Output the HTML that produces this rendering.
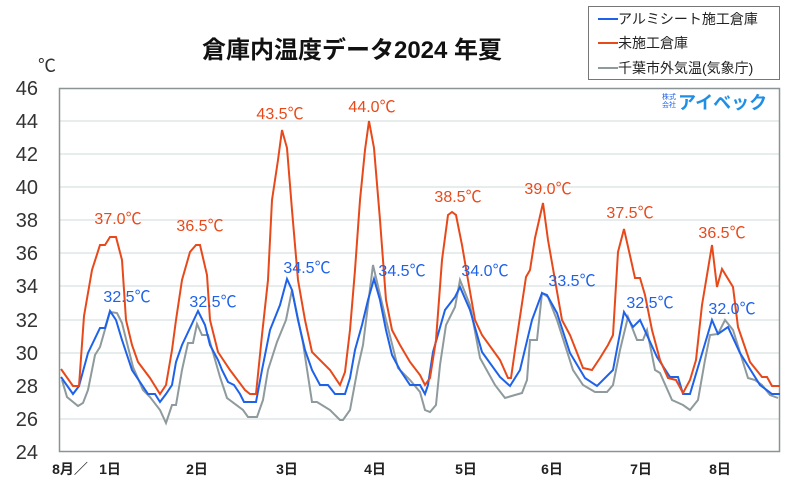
<!DOCTYPE html>
<html><head><meta charset="utf-8"><style>
body{margin:0;background:#fff;}
svg{display:block;font-family:"Liberation Sans","Noto Sans CJK JP",sans-serif;}
</style></head><body>
<svg width="787" height="490" viewBox="0 0 787 490" xmlns="http://www.w3.org/2000/svg">
<rect width="787" height="490" fill="#fff"/>
<text x="352" y="58" font-size="24" font-weight="bold" text-anchor="middle" fill="#111">倉庫内温度データ2024 年夏</text>
<text x="38" y="72" font-size="18" fill="#333">℃</text>
<g stroke="#dfe6e6" stroke-width="1.5">
<line x1="60" x2="779" y1="121" y2="121"/><line x1="60" x2="779" y1="154" y2="154"/>
<line x1="60" x2="779" y1="187" y2="187"/><line x1="60" x2="779" y1="220" y2="220"/>
<line x1="60" x2="779" y1="253" y2="253"/><line x1="60" x2="779" y1="286" y2="286"/>
<line x1="60" x2="779" y1="320" y2="320"/><line x1="60" x2="779" y1="353" y2="353"/>
<line x1="60" x2="779" y1="386" y2="386"/><line x1="60" x2="779" y1="419" y2="419"/>
</g>
<rect x="59.5" y="88.5" width="720" height="363" fill="none" stroke="#8a9496" stroke-width="1.5"/>
<g font-size="20" fill="#333" text-anchor="end">
<text x="38" y="95">46</text><text x="38" y="128">44</text><text x="38" y="161">42</text>
<text x="38" y="194">40</text><text x="38" y="227">38</text><text x="38" y="260">36</text>
<text x="38" y="293">34</text><text x="38" y="327">32</text><text x="38" y="360">30</text>
<text x="38" y="393">28</text><text x="38" y="426">26</text><text x="38" y="459">24</text>
</g>
<g font-size="14" font-weight="bold" fill="#222" text-anchor="middle">
<text x="70" y="474">8月／</text><text x="110" y="474">1日</text><text x="197" y="474">2日</text>
<text x="287" y="474">3日</text><text x="375" y="474">4日</text><text x="466" y="474">5日</text>
<text x="552" y="474">6日</text><text x="641" y="474">7日</text><text x="720" y="474">8日</text>
</g>
<polyline fill="none" stroke="#8e9a9c" stroke-width="2" points="62,380 67,397 78,406 83,403 88,390 95,355 100,347 110,312 117,313 122,323 133,367 143,390 150,397 160,410 166,423 172,405 176,405 182,370 188,343 193,343 197,324 202,335 208,335 220,377 227,398 243,410 248,417 257,417 263,400 268,370 277,342 286,320 292,290 303,343 312,402 317,402 330,410 340,420 343,420 350,410 358,367 363,345 373,265 386,320 398,368 410,380 420,392 425,410 430,412 436,405 440,365 446,325 455,307 460,280 470,305 480,358 495,385 505,398 515,395 522,393 527,380 530,340 537,340 542,293 548,297 557,320 573,370 583,385 595,392 607,392 613,385 620,350 628,317 637,340 643,340 647,330 655,370 660,373 672,400 683,405 690,410 698,400 705,360 710,335 718,334 725,320 733,330 748,378 755,380 762,385 770,395 778,398"/>
<polyline fill="none" stroke="#1e62ea" stroke-width="2" points="61,377 73,394 79,386 88,353 100,328 105,328 110,311 116,320 122,340 132,370 140,382 148,394 155,394 160,402 166,394 172,385 176,362 182,345 190,328 198,311 205,325 210,345 218,360 222,370 228,382 234,385 240,394 244,402 256,402 262,370 270,330 280,305 287,279 292,290 298,320 305,350 312,370 320,385 328,385 335,394 345,394 350,378 355,350 362,325 368,300 374,279 380,300 386,330 392,355 400,370 410,385 420,385 425,394 428,385 433,352 445,310 455,297 460,287 470,310 482,352 500,377 510,386 520,370 532,320 542,293 547,295 557,313 570,353 585,378 597,386 613,370 624,312 633,327 640,320 657,357 670,377 678,377 683,394 690,394 712,320 718,334 728,327 740,353 760,385 772,394 780,394"/>
<polyline fill="none" stroke="#e8491a" stroke-width="2" points="61,369 73,386 79,386 84,316 92,270 100,245 105,245 110,237 116,237 122,260 126,320 132,345 138,362 150,378 160,394 166,385 172,350 176,320 182,280 190,252 196,245 200,245 207,275 210,320 218,352 230,370 245,390 250,394 256,394 262,335 268,280 272,200 278,160 282,130 287,148 292,210 298,280 305,320 312,352 330,370 340,385 345,372 350,330 355,270 360,200 365,150 369,121 374,148 380,220 386,300 392,330 400,345 410,362 420,375 425,385 430,378 436,340 442,260 448,215 452,212 456,215 462,245 468,280 475,320 482,335 500,360 508,378 511,378 515,350 526,277 530,270 535,238 543,203 548,240 555,280 562,320 570,335 583,368 592,370 600,358 608,345 613,335 618,252 624,229 631,260 635,278 640,278 645,295 652,330 660,360 668,378 676,380 683,393 690,380 696,360 702,305 712,245 717,287 722,269 733,287 738,327 750,362 762,377 767,377 772,386 780,386"/>
<g font-size="16" fill="#e8491a" text-anchor="middle">
<text x="118" y="224">37.0℃</text><text x="200" y="231">36.5℃</text><text x="280" y="119">43.5℃</text>
<text x="372" y="112">44.0℃</text><text x="458" y="202">38.5℃</text><text x="548" y="194">39.0℃</text>
<text x="630" y="218">37.5℃</text><text x="722" y="238">36.5℃</text>
</g>
<g font-size="16" fill="#1e62ea" text-anchor="middle">
<text x="127" y="302">32.5℃</text><text x="213" y="307">32.5℃</text><text x="307" y="273">34.5℃</text>
<text x="402" y="276">34.5℃</text><text x="485" y="276">34.0℃</text><text x="572" y="286">33.5℃</text>
<text x="650" y="308">32.5℃</text><text x="732" y="314">32.0℃</text>
</g>
<rect x="588.5" y="6.5" width="191" height="73" fill="#fff" stroke="#777" stroke-width="1"/>
<g font-size="14" fill="#222">
<line x1="598" x2="618" y1="19" y2="19" stroke="#1e62ea" stroke-width="2"/><text x="618" y="24">アルミシート施工倉庫</text>
<line x1="598" x2="618" y1="43" y2="43" stroke="#e8491a" stroke-width="2"/><text x="618" y="48">未施工倉庫</text>
<line x1="598" x2="618" y1="68" y2="68" stroke="#8e9a9c" stroke-width="2"/><text x="618" y="73">千葉市外気温(気象庁)</text>
</g>
<text x="662" y="99" font-size="7" fill="#1e62ea">株式</text>
<text x="662" y="107" font-size="7" fill="#1e62ea">会社</text>
<text x="678" y="109" font-size="18" font-weight="bold" fill="#1e8fe6">アイベック</text>
</svg>
</body></html>
